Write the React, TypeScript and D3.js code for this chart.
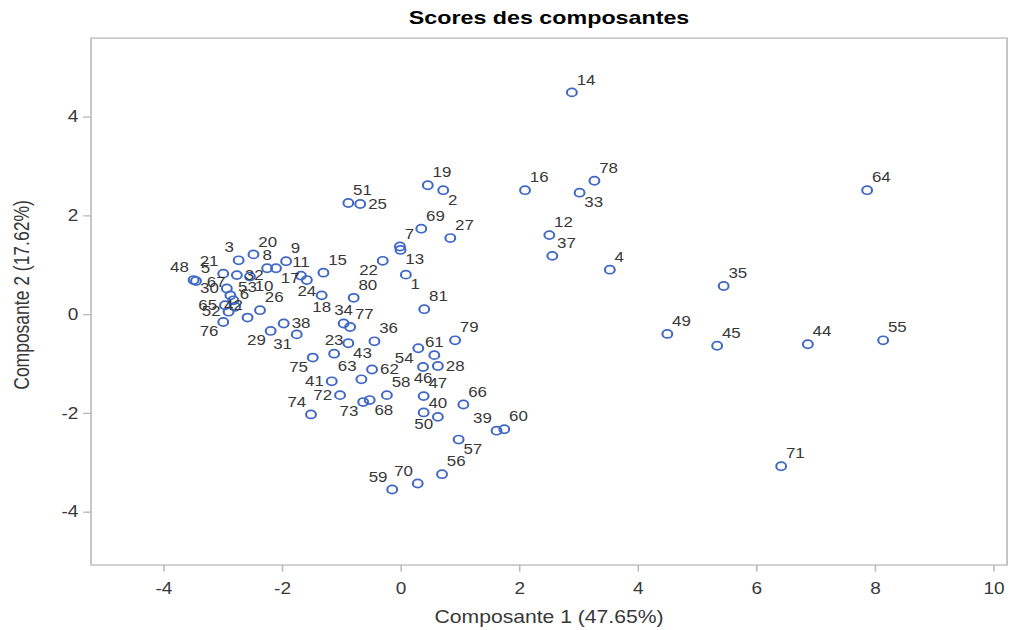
import * as d3 from "d3"

// observation numbers and their scores on the first two components
const obsIds = d3.range(1, 82)
const comp1 = [
  0.08, 0.71, -2.74, 3.52, -3.46, -2.8, -0.02, -2.26, -1.94, -2.55,
  -1.69, 2.5, -0.01, 2.88, -1.31, 2.09, -2.11, -1.34, 0.45, -2.49,
  -3.0, -0.31, -1.13, -1.59, -0.69, -2.38, 0.83, 0.62, -2.2, -2.94,
  -1.76, -2.77, 3.01, -0.97, 5.44, -0.45, 2.55, -1.98, 1.61, 0.62,
  -1.17, -2.59, -0.89, 6.86, 5.33, 0.37, 0.38, -3.5, 4.49, 0.38,
  -0.89, -2.91, -2.83, 0.29, 8.13, 0.69, 0.97, -0.24, -0.15, 1.74,
  0.56, -0.49, -0.67, 7.86, -2.97, 1.05, -2.88, -0.53, 0.34, 0.28,
  6.41, -1.03, -0.64, -1.52, -1.49, -3.0, -0.86, 3.26, 0.91, -0.8,
  0.39,
]
const comp2 = [
  0.81, 2.52, 1.1, 0.91, 0.68, 0.16, 1.38, 0.94, 1.08, 0.77,
  0.79, 1.61, 1.31, 4.5, 0.85, 2.52, 0.94, 0.39, 2.62, 1.22,
  0.83, 1.09, -0.79, 0.7, 2.24, 0.09, 1.55, -1.04, -0.33, 0.53,
  -0.4, 0.8, 2.47, -0.18, 0.58, -0.54, 1.19, -0.18, -2.35, -2.07,
  -1.35, -0.06, -0.58, -0.6, -0.63, -1.06, -1.65, 0.7, -0.39, -1.98,
  2.26, 0.06, 0.29, -0.68, -0.52, -3.23, -2.53, -1.63, -3.54, -2.32,
  -0.82, -1.11, -1.31, 2.52, 0.19, -1.82, 0.39, -1.73, 1.74, -3.42,
  -3.07, -1.63, -1.77, -2.02, -0.87, -0.15, -0.25, 2.71, -0.52, 0.34,
  0.11,
]
const xTicks = [-4, -2, 0, 2, 4, 6, 8, 10]
const yTicks = [-4, -2, 0, 2, 4]

// where each data label sits around its marker (collision avoidance done by eye)
const labelPlacement = [
  "br", "br", "tl", "tr", "tr", "tr", "tr", "t", "tr", "br",
  "t", "tr", "br", "tr", "tr", "tr", "br", "b", "tr", "tr",
  "tl", "bl", "t", "b", "r", "tr", "tr", "r", "bl", "l",
  "bl", "r", "br", "t", "tr", "tr", "tr", "r", "tl", "t",
  "l", "tl", "br", "tr", "tr", "b", "tr", "tl", "tr", "b",
  "tr", "l", "tr", "bl", "tr", "tr", "br", "tr", "tl", "tr",
  "t", "r", "tl", "tr", "l", "tr", "tl", "br", "tr", "tl",
  "tr", "l", "bl", "tl", "bl", "bl", "tr", "tr", "tr", "tr",
  "tr",
]

const offsets: Record<string, { dx: number; dy: number; anchor: string }> = {
  tr: { dx: 3, dy: -6, anchor: "start" },
  t: { dx: 0, dy: -6.5, anchor: "middle" },
  tl: { dx: -3, dy: -6, anchor: "end" },
  r: { dx: 5, dy: 3.5, anchor: "start" },
  l: { dx: -5, dy: 3.5, anchor: "end" },
  br: { dx: 3, dy: 11, anchor: "start" },
  b: { dx: 0, dy: 12.5, anchor: "middle" },
  bl: { dx: -3, dy: 11, anchor: "end" },
}

// the chart is laid out on a 640x480 canvas and stretched to the window
const W = 640
const H = 480
const plot = { left: 57.4, right: 635, top: 29, bottom: 430.5 }
const font = "'Liberation Sans', Arial, sans-serif"
const gray = "#b9b9b9"
const ink = "#383838"
const blue = "#3f68c4"

export default function App() {
  const x = d3.scaleLinear().domain([-5.23, 10.22]).range([plot.left, plot.right])
  const y = d3.scaleLinear().domain([-5.07, 5.6]).range([plot.bottom, plot.top])

  const points = obsIds.map((id, i) => ({
    id,
    cx: x(comp1[i]),
    cy: y(comp2[i]),
    pos: offsets[labelPlacement[i]],
  }))

  const midX = (plot.left + plot.right) / 2
  const midY = (plot.top + plot.bottom) / 2

  return (
    <svg
      width={1015}
      height={630}
      viewBox={`0 0 ${W} ${H}`}
      preserveAspectRatio="none"
      style={{ position: "absolute", left: 0, top: 0, background: "#fff" }}
      fontFamily={font}
    >
      <text x={midX} y={18.5} textAnchor="middle" fontSize={14.67} fontWeight="bold" fill="#000">
        Scores des composantes
      </text>

      <rect
        x={plot.left}
        y={plot.top}
        width={plot.right - plot.left}
        height={plot.bottom - plot.top}
        fill="none"
        stroke={gray}
        strokeWidth={1}
      />

      {/* x axis */}
      {xTicks.map((t) => (
        <g key={"x" + t}>
          <line x1={x(t)} x2={x(t)} y1={plot.bottom} y2={plot.bottom + 5} stroke={gray} />
          <text x={x(t)} y={plot.bottom + 22} textAnchor="middle" fontSize={12} fill={ink}>
            {t}
          </text>
        </g>
      ))}
      <text x={midX} y={475} textAnchor="middle" fontSize={13.33} fill={ink}>
        Composante 1 (47.65%)
      </text>

      {/* y axis */}
      {yTicks.map((t) => (
        <g key={"y" + t}>
          <line x1={plot.left - 5} x2={plot.left} y1={y(t)} y2={y(t)} stroke={gray} />
          <text x={plot.left - 8} y={y(t) + 4} textAnchor="end" fontSize={12} fill={ink}>
            {t}
          </text>
        </g>
      ))}
      <text
        transform={`translate(18.5,${midY - 5}) rotate(-90)`}
        textAnchor="middle"
        fontSize={13.33}
        fill={ink}
      >
        Composante 2 (17.62%)
      </text>

      {/* markers */}
      {points.map((p) => (
        <circle key={"c" + p.id} cx={p.cx} cy={p.cy} r={3.1} fill="none" stroke={blue} strokeWidth={1.3} />
      ))}

      {/* data labels */}
      {points.map((p) => (
        <text
          key={"t" + p.id}
          x={p.cx + p.pos.dx}
          y={p.cy + p.pos.dy}
          textAnchor={p.pos.anchor}
          fontSize={10.67}
          fill={ink}
        >
          {p.id}
        </text>
      ))}
    </svg>
  )
}
